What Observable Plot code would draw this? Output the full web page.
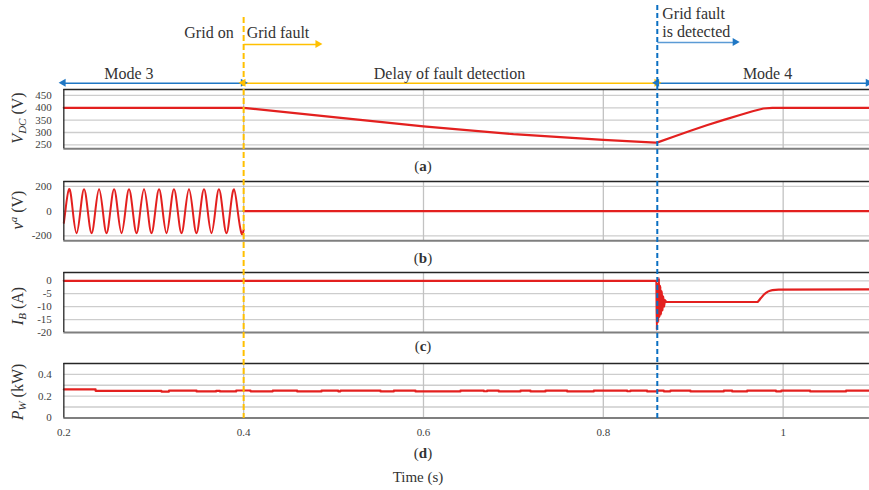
<!DOCTYPE html>
<html>
<head>
<meta charset="utf-8">
<script src="https://cdn.jsdelivr.net/npm/d3@7"></script>
<script src="https://cdn.jsdelivr.net/npm/@observablehq/plot@0.6"></script>
<style>
  body { margin: 0; background: #fff; }
  #root { position: relative; width: 869px; height: 490px; overflow: hidden; background: #fff;
          font-family: "Liberation Serif", "DejaVu Serif", serif; color: #333; }
  .lbl { position: absolute; white-space: nowrap; transform: translate(-50%, -50%); }
  .ylbl { position: absolute; white-space: nowrap; font-size: 16px; transform: translate(-50%, -50%) rotate(-90deg); }
  .ylbl sub { font-size: 11px; vertical-align: -3px; }
  .ylbl sup { font-size: 11px; vertical-align: 6px; }
  .cap { font-size: 15px; }
</style>
</head>
<body>
<div id="root"></div>
<script>
// ---------------- data ----------------
const xTicks = [0.2, 0.4, 0.6, 0.8, 1];
const vGridTicks = [0.4, 0.6, 0.8, 1];

// (a) DC-link voltage
const t_vdc = [0.2, 0.4, 0.5, 0.6, 0.7, 0.8, 0.858, 0.8596, 0.878, 0.897, 0.915, 0.934, 0.952, 0.966, 0.978, 0.988, 1.1];
const vdc   = [400, 400, 362, 325, 293, 270, 259, 259, 283, 307, 329, 351, 371, 386, 397, 400, 400];
const vdcTicks = [450, 400, 350, 300, 250];

// (b) grid voltage v^a (extrema and zero crossings)
const t_va = [0.2, 0.2017, 0.2059, 0.2100, 0.2142, 0.2184, 0.2225, 0.2267, 0.2309, 0.2350, 0.2392, 0.2434, 0.2475,
              0.2517, 0.2559, 0.2600, 0.2642, 0.2684, 0.2725, 0.2767, 0.2809, 0.2850, 0.2892, 0.2934, 0.2975,
              0.3017, 0.3059, 0.3100, 0.3142, 0.3184, 0.3225, 0.3267, 0.3309, 0.3350, 0.3392, 0.3434, 0.3475,
              0.3517, 0.3559, 0.3600, 0.3642, 0.3684, 0.3725, 0.3767, 0.3809, 0.3850, 0.3892, 0.3934, 0.3975, 0.4];
const va   = [-95, 0, 178, 0, -178, 0, 178, 0, -178, 0, 178, 0, -178,
              0, 178, 0, -178, 0, 178, 0, -178, 0, 178, 0, -178,
              0, 178, 0, -178, 0, 178, 0, -178, 0, 178, 0, -178,
              0, 178, 0, -178, 0, 178, 0, -178, 0, 178, 0, -178, -150];
const t_va0 = [0.4, 1.1];
const va0   = [0, 0];
const vaTicks = [200, 0, -200];

// (c) battery current
const t_ib = [0.2, 0.859, 0.8595, 0.8603, 0.861, 0.8618, 0.8626, 0.8634, 0.8642, 0.865, 0.8658, 0.8666, 0.8675, 0.8685, 0.87,
              0.971, 0.975, 0.979, 0.983, 0.988, 0.995, 1.1];
const ib   = [0, 0, -19, -1, -16, 1, -14, -2, -13, -4, -11.5, -6, -10, -7.5, -8.2,
              -8.2, -6.8, -5.2, -4.2, -3.6, -3.4, -3.3];
const ibTicks = [0, -5, -10, -15, -20];

// (d) wind power
const t_pw = [0.2, 0.2353, 0.3085, 0.317, 0.3476, 0.3694, 0.3735, 0.3917, 0.4076, 0.4324, 0.4595, 0.4866, 0.5051, 0.5077,
              0.5522, 0.567, 0.5911, 0.6411, 0.6671, 0.6708, 0.6837, 0.7079, 0.719, 0.7357, 0.7598, 0.7894, 0.8265,
              0.8302, 0.8487, 0.8599, 0.8672, 0.8747, 0.8969, 0.934, 0.9433, 0.96, 0.992, 0.998, 1.03, 1.07, 1.1];
const pw   = [0.262, 0.249, 0.242, 0.25, 0.243, 0.249, 0.243, 0.252, 0.244, 0.251, 0.243, 0.25, 0.244, 0.25,
              0.243, 0.25, 0.243, 0.25, 0.245, 0.25, 0.243, 0.25, 0.243, 0.251, 0.243, 0.25, 0.245,
              0.25, 0.243, 0.25, 0.244, 0.25, 0.243, 0.25, 0.243, 0.25, 0.244, 0.25, 0.243, 0.25, 0.25];
const pwTicks = [0, 0.2, 0.4];
const pwGrid = [0.4, 0.3, 0.2, 0.1];

// events
const tGridFault = 0.4;
const tDetected = 0.86;

// ---------------- layout ----------------
const W = 869, H = 490;
const xDomain = [0.2, 1.1];
const xRange = [63.3, 872.6];
const RED = "#e3201f";
const root = document.getElementById("root");
const baseStyle = {fontFamily: "'Liberation Serif', 'DejaVu Serif', serif", fontSize: "11px", color: "#404040", background: "transparent", overflow: "visible"};

function panel({top, bottom, yDomain, yTicks, yGrid, lines, xAxis, zero}) {
  const mt = 2, mb = xAxis ? 30 : 2;
  const marks = [
    Plot.ruleY(yGrid, {stroke: "#cdcdcd", strokeWidth: 1.3}),
    Plot.ruleX(vGridTicks, {stroke: "#c2c2c2", strokeWidth: 1.3}),
    ...(zero ? [Plot.ruleY([0], {stroke: "#9a9a9a", strokeWidth: 1.3})] : []),
    ...lines,
    Plot.ruleY([yDomain[1]], {stroke: "#262626", strokeWidth: 1.3}),
    Plot.ruleY([yDomain[0]], {stroke: "#7f7f7f", strokeWidth: 2}),
    Plot.ruleX([xDomain[0]], {stroke: "#262626", strokeWidth: 1.3})
  ];
  const svg = Plot.plot({
    width: W, height: bottom - top + mt + mb,
    marginTop: mt, marginBottom: mb, marginLeft: xRange[0], marginRight: 0,
    x: {domain: xDomain, range: xRange, axis: xAxis ? "bottom" : null, ticks: xTicks,
        tickSize: 0, tickPadding: 10, tickFormat: d => String(d), label: null},
    y: {domain: yDomain, ticks: yTicks, tickSize: 0, tickPadding: 12, tickFormat: d => String(d), label: null},
    style: baseStyle,
    marks
  });
  svg.style.position = "absolute";
  svg.style.left = "0px";
  svg.style.top = (top - mt) + "px";
  root.appendChild(svg);
}

panel({top: 89, bottom: 148.3, yDomain: [234, 474], yTicks: vdcTicks, yGrid: vdcTicks,
  lines: [Plot.line(t_vdc, {x: t_vdc, y: vdc, stroke: RED, strokeWidth: 2.2})]});

panel({top: 180.7, bottom: 240, yDomain: [-240, 240], yTicks: vaTicks, yGrid: [200, -200], zero: true,
  lines: [
    Plot.line(t_va, {x: t_va, y: va, stroke: RED, strokeWidth: 2, curve: "natural"}),
    Plot.line(t_va0, {x: t_va0, y: va0, stroke: RED, strokeWidth: 2.2})
  ]});

panel({top: 271.7, bottom: 331.7, yDomain: [-20, 3.2], yTicks: ibTicks, yGrid: [0, -5, -10, -15],
  lines: [Plot.line(t_ib, {x: t_ib, y: ib, stroke: RED, strokeWidth: 2.2, curve: "monotone-x"})]});

panel({top: 363.3, bottom: 417.7, yDomain: [0, 0.5], yTicks: pwTicks, yGrid: pwGrid, xAxis: true,
  lines: [Plot.line(t_pw, {x: t_pw, y: pw, stroke: RED, strokeWidth: 2.2, curve: "step-after"})]});

// ---------------- annotation overlay ----------------
const ORANGE = "#FFC000", BLUE = "#1f77c4", LBLUE = "#5b9bd5";
const xEnd = 1.095;
const arrows = [
  {x1: 0.2, x2: tGridFault, y: 82.7, c: BLUE, h: BLUE, both: true},
  {x1: tGridFault, x2: tDetected, y: 82.7, c: ORANGE, h: ORANGE, both: true},
  {x1: tDetected, x2: xEnd, y: 82.7, c: BLUE, h: BLUE, both: true},
  {x1: tGridFault, x2: 0.483, y: 44, c: ORANGE, h: ORANGE, both: false},
  {x1: tDetected, x2: 0.947, y: 42, c: LBLUE, h: BLUE, both: false}
];
const heads = [];
for (const a of arrows) {
  heads.push({x: a.x2, y: a.y, rot: 90, dx: -4.6, c: a.h});
  if (a.both) heads.push({x: a.x1, y: a.y, rot: -90, dx: 4.6, c: a.h});
}
const notes = [
  {text: "Grid on", x: tGridFault, y: 32, anchor: "end", dx: -10},
  {text: "Grid fault", x: tGridFault, y: 32, anchor: "start", dx: 3},
  {text: "Mode 3", x: 0.2723, y: 73, anchor: "middle", dx: 0},
  {text: "Delay of fault detection", x: 0.629, y: 73, anchor: "middle", dx: 0},
  {text: "Mode 4", x: 0.9826, y: 73, anchor: "middle", dx: 0},
  {text: "Grid fault", x: tDetected, y: 13, anchor: "start", dx: 5},
  {text: "is detected", x: tDetected, y: 31, anchor: "start", dx: 5}
];

const overlay = Plot.plot({
  width: W, height: H, margin: 0,
  x: {domain: xDomain, range: xRange, axis: null},
  y: {domain: [0, H], range: [0, H], axis: null},
  style: {...baseStyle, fontSize: "16px", color: "#333"},
  marks: [
    Plot.link(arrows, {x1: "x1", x2: "x2", y1: "y", y2: "y", stroke: "c", strokeWidth: 1.6}),
    Plot.dot(heads, {x: "x", y: "y", dx: "dx", rotate: "rot", symbol: "triangle", fill: "c", r: 3}),
    Plot.ruleX([tGridFault], {y1: 17, y2: 418, stroke: ORANGE, strokeWidth: 2, strokeDasharray: "6,3"}),
    Plot.ruleX([tDetected], {y1: 5, y2: 418, stroke: "#0a6fc2", strokeWidth: 2, strokeDasharray: "5,3"}),
    ...notes.map(n => Plot.text([n], {x: "x", y: "y", text: "text", textAnchor: n.anchor, dx: n.dx, fill: "#333"}))
  ]
});
overlay.style.position = "absolute";
overlay.style.left = "0px";
overlay.style.top = "0px";
root.appendChild(overlay);

// ---------------- HTML labels (axis titles & captions) ----------------
function html(cls, inner, left, top) {
  const d = document.createElement("div");
  d.className = cls;
  d.innerHTML = inner;
  d.style.left = left + "px";
  d.style.top = top + "px";
  root.appendChild(d);
}
html("ylbl", "<i>V</i><sub><i>DC</i></sub> (V)", 18, 118);
html("ylbl", "<i>v</i><sup><i>a</i></sup> (V)", 17, 210);
html("ylbl", "<i>I</i><sub><i>B</i></sub> (A)", 18, 306);
html("ylbl", "<i>P</i><sub><i>W</i></sub> (kW)", 18, 392);
html("lbl cap", "(<b>a</b>)", 423, 166);
html("lbl cap", "(<b>b</b>)", 423, 257.5);
html("lbl cap", "(<b>c</b>)", 423, 346);
html("lbl cap", "(<b>d</b>)", 423, 453);
html("lbl cap", "Time (s)", 418, 477);
</script>
</body>
</html>
